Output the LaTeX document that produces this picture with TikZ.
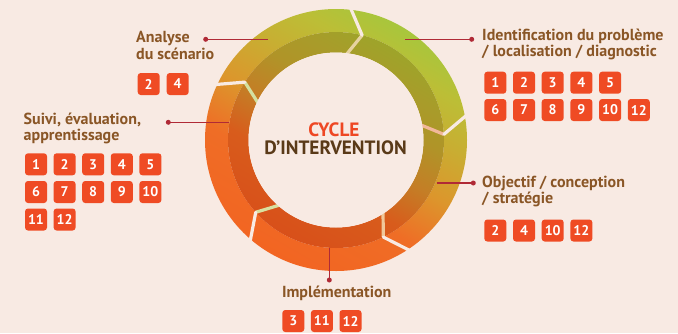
\documentclass[tikz,border=0pt]{standalone}
\usepackage{fontspec}
\setmainfont{PT Sans}
\usetikzlibrary{calc}
\definecolor{bg}{HTML}{F8EAE3}
\definecolor{o1}{HTML}{F26522}
\definecolor{o2}{HTML}{EF6D26}
\definecolor{o3}{HTML}{DC962C}
\definecolor{o4}{HTML}{C8AE32}
\definecolor{o5}{HTML}{BCBE36}
\definecolor{o6}{HTML}{A8C63C}
\definecolor{i1}{HTML}{D8501A}
\definecolor{i2}{HTML}{D85C1C}
\definecolor{i3}{HTML}{C47E26}
\definecolor{i4}{HTML}{B09428}
\definecolor{i5}{HTML}{A89C2A}
\definecolor{i6}{HTML}{9EA42A}
\definecolor{g1}{HTML}{E6D3A0}
\definecolor{g2}{HTML}{F2B89A}
\definecolor{g3}{HTML}{F0C89A}
\definecolor{g4}{HTML}{D8E0A0}
\definecolor{g5}{HTML}{D4E0A0}
\definecolor{lblc}{HTML}{8A5626}
\definecolor{boxc}{HTML}{EF4B24}
\definecolor{linec}{HTML}{B02A36}
\definecolor{cyc}{HTML}{EE4723}
\definecolor{dint}{HTML}{5A3A18}
\pgfdeclareverticalshading{outershade}{100bp}{color(0bp)=(o1); color(25bp)=(o1); color(40bp)=(o2); color(50bp)=(o3); color(60bp)=(o4); color(68bp)=(o5); color(75bp)=(o6); color(100bp)=(o6)}
\pgfdeclareverticalshading{innershade}{100bp}{color(0bp)=(i1); color(25bp)=(i1); color(40bp)=(i2); color(50bp)=(i3); color(60bp)=(i4); color(68bp)=(i5); color(75bp)=(i6); color(100bp)=(i6)}
\begin{document}
\begin{tikzpicture}[x=1pt,y=-1pt,
  numbox/.style={fill=boxc, rounded corners=3pt, minimum width=22pt, minimum height=22pt, inner sep=0pt, text=white, font=\bfseries\fontsize{14}{14}\selectfont},
  lbl/.style={text=lblc, font=\bfseries\fontsize{16}{16.7}\selectfont, align=left, inner sep=0pt, anchor=north west, execute at begin node={\rule{0pt}{12.5pt}}},
  ctitle/.style={font=\bfseries\fontsize{19.3}{19.3}\selectfont, anchor=base, inner sep=0pt},
  conn/.style={draw=linec, line width=1.2pt},
  dotn/.style={circle, fill=linec, inner sep=0pt, minimum size=5pt},
  gapout/.style={draw=bg, line width=3.2pt, line cap=round},
  gapin/.style={line width=3.2pt}]
\fill[bg] (0,0) rectangle (678,333);
\coordinate (c) at (336,140);
% ring
\shade[shading=outershade, shading angle=-30, even odd rule] (c) circle[radius=131pt] (c) circle[radius=108pt];
\shade[shading=innershade, shading angle=-30, even odd rule] (c) circle[radius=108pt] (c) circle[radius=87.5pt];
\foreach \b/\g in {84/g1, 11/g2, -56/g3, -130/g4, 155.6/g5}{
  \draw[gapin, draw=\g] ($(c)+(\b-8:108pt)$) -- ($(c)+(\b:84pt)$);
  \draw[gapout] ($(c)+(\b:134pt)$) -- ($(c)+(\b-8:108pt)$);
}
\fill[bg] (c) circle[radius=87.5pt];
% centre title
\node[ctitle, text=cyc] (cyc) at (334,136.7) {CYCLE};
\node[ctitle, text=dint] (dint) at (335.5,154.2) {D’INTERVENTION};
% connectors
\node[dotn] (danl) at (205.7,39.3) {};
\coordinate (eanl) at (268,39.3);
\draw[conn] (danl.center) -- (eanl);
\node[dotn] (dsvi) at (168.3,122.3) {};
\coordinate (esvi) at (229,122.3);
\draw[conn] (dsvi.center) -- (esvi);
\node[dotn] (didf) at (471.7,39.3) {};
\coordinate (eidf) at (405,39.3);
\draw[conn] (eidf) -- (didf.center);
\node[dotn] (dobj) at (473.3,183) {};
\coordinate (eobj) at (436.7,183);
\draw[conn] (eobj) -- (dobj.center);
\node[dotn] (dimp) at (329.3,280) {};
\coordinate (eimp) at (329.3,248);
\draw[conn] (eimp) -- (dimp.center);
% labels
\node[lbl] (lanl) at (136,31) {Analyse\\du scénario};
\node[lbl] (lsvi) at (23.5,112.5) {Suivi, évaluation,\\apprentissage};
\node[lbl] (lidf) at (482,28.5) {Identification du problème\\/ localisation / diagnostic};
\node[lbl] (lobj) at (482,175.5) {Objectif / conception\\/ stratégie};
\node[text=lblc, font=\bfseries\fontsize{16}{16.7}\selectfont, inner sep=0pt, anchor=base] (limp) at (336.7,297.7) {Implémentation};
% number boxes
\node[numbox] (a2) at (148.7,84) {2};
\node[numbox] (a4) at (177.7,84) {4};
\foreach \n [count=\i] in {1,...,5}{
  \node[numbox] (s\n) at ({36+(\i-1)*28.6},164.3) {\n};
  \node[numbox] (i\n) at ({495.3+(\i-1)*28.7},82.7) {\n};
}
\foreach \n [count=\i] in {6,...,10}{
  \node[numbox] (s\n) at ({36+(\i-1)*28.6},192) {\n};
}
\foreach \n [count=\i] in {6,7,8,9,10,12}{
  \node[numbox] (i\n) at ({495.3+(\i-1)*28.7},110) {\n};
}
\node[numbox] (s11) at (36,219.5) {11};
\node[numbox] (s12) at (64.6,219.5) {12};
\foreach \n [count=\i] in {2,4,10,12}{
  \node[numbox] (o\n) at ({495.3+(\i-1)*28.7},230.5) {\n};
}
\foreach \n [count=\i] in {3,11,12}{
  \node[numbox] (m\n) at ({293.3+(\i-1)*28.6},321) {\n};
}
\end{tikzpicture}
\end{document}
